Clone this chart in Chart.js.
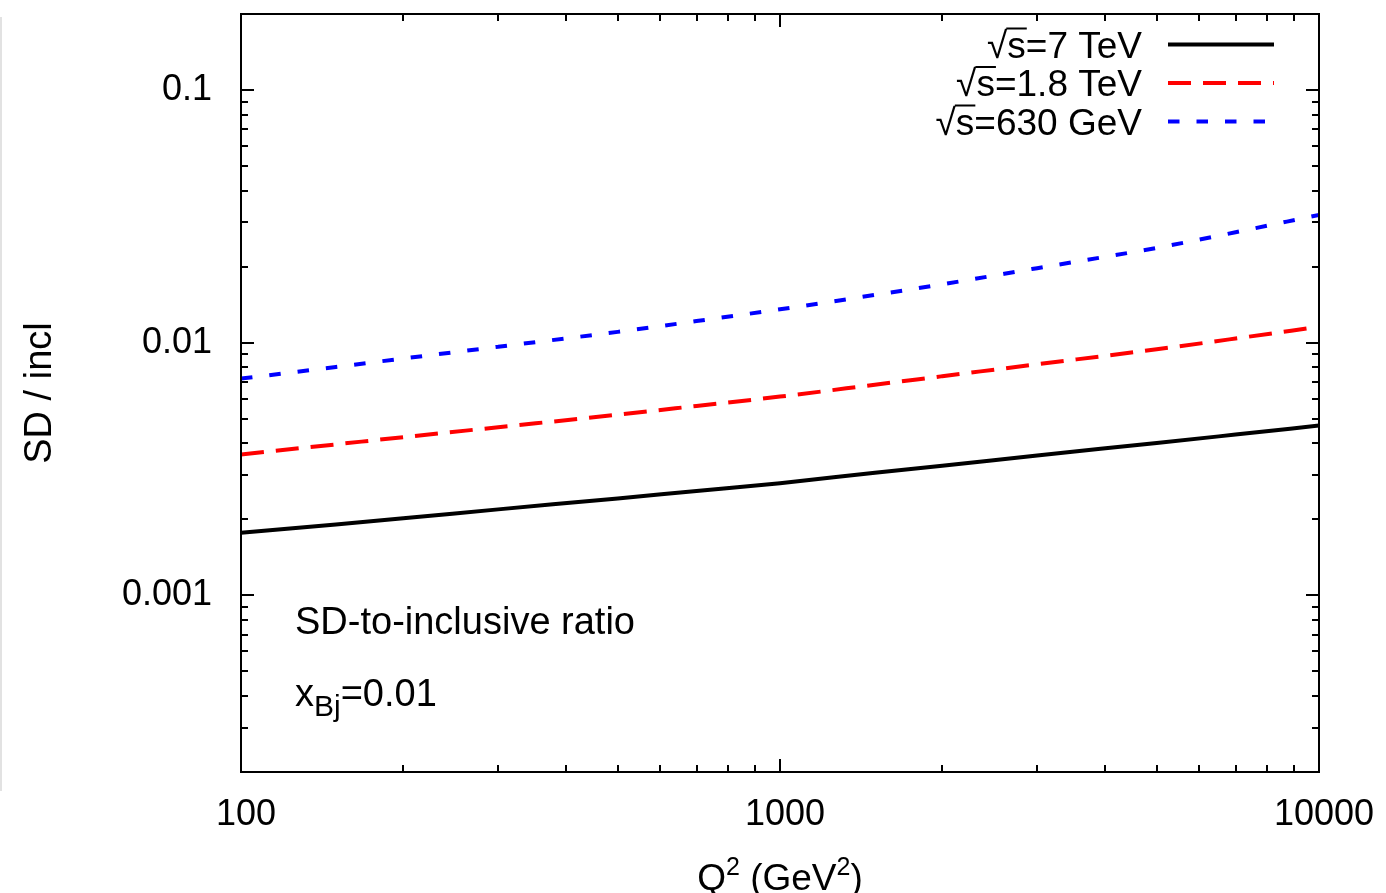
<!DOCTYPE html>
<html>
<head>
<meta charset="utf-8">
<script src="https://cdn.jsdelivr.net/npm/chart.js@4.4.0/dist/chart.umd.min.js"></script>
<style>
  html, body { margin: 0; padding: 0; background: #fff; }
  #wrap { position: relative; width: 1386px; height: 893px; }
</style>
</head>
<body>
<div id="wrap"><canvas id="ratio" width="1386" height="893"></canvas></div>
<script>
// Q^2 values (GeV^2)
let q2 = [100, 150, 200, 300, 500, 700, 1000, 1500, 2000, 3000, 5000, 7000, 10000];
// SD / inclusive ratio, x_Bj = 0.01
let ratio7TeV   = [0.00177, 0.00191, 0.00202, 0.00219, 0.00242, 0.00259, 0.00278, 0.00306, 0.00326, 0.00358, 0.00401, 0.00433, 0.00470];
let ratio18TeV  = [0.00361, 0.00396, 0.00423, 0.00463, 0.00519, 0.00562, 0.00612, 0.00682, 0.00737, 0.00822, 0.00942, 0.01039, 0.01157];
let ratio630GeV = [0.00721, 0.00802, 0.00866, 0.00964, 0.01104, 0.01218, 0.01356, 0.01546, 0.01703, 0.01973, 0.02374, 0.02736, 0.03206];
let energies = ['7 TeV', '1.8 TeV', '630 GeV'];
let xTickLabels = ['100', '1000', '10000'];
let yTickLabels = ['0.001', '0.01', '0.1'];

const FONT = '"Liberation Sans", Arial, Helvetica, sans-serif';

function pts(ys) {
  return q2.map((q, i) => ({ x: q, y: ys[i] }));
}

// 1..9 x 10^n between min and max
function logTicks(min, max) {
  let out = [];
  for (let n = Math.floor(Math.log10(min)); n <= Math.ceil(Math.log10(max)); n++) {
    for (let k = 1; k <= 9; k++) {
      let v = k * Math.pow(10, n);
      if (v >= min * (1 - 1e-9) && v <= max * (1 + 1e-9)) out.push({ value: v });
    }
  }
  return out;
}

function labelFor(list, value) {
  let hit = list.find(l => Math.abs(Number(l) - value) < value * 1e-9);
  return hit === undefined ? '' : hit;
}

function noOverhang(scale) {
  scale.paddingTop = 0;
  scale.paddingBottom = 0;
  scale.paddingLeft = 0;
  scale.paddingRight = 0;
}

// frame with inward ticks on all four sides, legend and text labels
const decor = {
  id: 'decor',
  afterDatasetsDraw(chart) {
    const { ctx, chartArea: a, scales } = chart;
    ctx.save();

    // faint edge line on the far left
    ctx.strokeStyle = '#e2e2e2';
    ctx.lineWidth = 2;
    ctx.beginPath();
    ctx.moveTo(1, 17); ctx.lineTo(1, 791);
    ctx.stroke();

    // legend
    ctx.font = '37px ' + FONT;
    ctx.fillStyle = '#000';
    ctx.textBaseline = 'alphabetic';
    ctx.textAlign = 'left';
    chart.data.datasets.forEach((ds, i) => {
      let rowY = 44.5 + 38.5 * i;
      let base = rowY + 13;
      let right = 1142;
      let rest = '=' + ds.label;
      let wRest = ctx.measureText(rest).width;
      let wS = ctx.measureText('s').width;
      let mR = ctx.measureText('\u221A');
      let xRest = right - wRest, xS = xRest - wS, xR = xS - mR.width;
      ctx.fillText('\u221A', xR, base);
      ctx.fillText('s', xS, base);
      ctx.fillText(rest, xRest, base);
      ctx.strokeStyle = '#000';
      ctx.lineWidth = 2;
      ctx.setLineDash([]);
      let top = base - mR.actualBoundingBoxAscent + 1;
      ctx.beginPath();
      ctx.moveTo(xS - 1, top); ctx.lineTo(xS + wS + 1, top);
      ctx.stroke();

      ctx.strokeStyle = ds.borderColor;
      ctx.lineWidth = ds.borderWidth;
      ctx.setLineDash(ds.borderDash || []);
      ctx.beginPath();
      ctx.moveTo(1168, rowY); ctx.lineTo(1274, rowY);
      ctx.stroke();
    });
    ctx.setLineDash([]);

    // frame and ticks
    ctx.strokeStyle = '#000';
    ctx.lineWidth = 2;
    ctx.strokeRect(a.left, a.top, a.right - a.left, a.bottom - a.top);
    ctx.beginPath();
    scales.x.ticks.forEach(t => {
      let px = Math.round(scales.x.getPixelForValue(t.value));
      let len = t.label ? 13 : 7;
      ctx.moveTo(px, a.bottom); ctx.lineTo(px, a.bottom - len);
      ctx.moveTo(px, a.top); ctx.lineTo(px, a.top + len);
    });
    scales.y.ticks.forEach(t => {
      let py = Math.round(scales.y.getPixelForValue(t.value));
      let len = t.label ? 13 : 7;
      ctx.moveTo(a.left, py); ctx.lineTo(a.left + len, py);
      ctx.moveTo(a.right, py); ctx.lineTo(a.right - len, py);
    });
    ctx.stroke();

    // text inside the plot
    ctx.fillStyle = '#000';
    ctx.font = '38px ' + FONT;
    ctx.fillText('SD-to-inclusive ratio', 295, 634);
    let x = 295;
    ctx.fillText('x', x, 706);
    x += ctx.measureText('x').width;
    ctx.font = '30px ' + FONT;
    ctx.fillText('Bj', x, 716);
    x += ctx.measureText('Bj').width;
    ctx.font = '38px ' + FONT;
    ctx.fillText('=0.01', x, 706);

    // axis titles
    let parts = [['Q', 37, 0], ['2', 25, -15], [' (GeV', 37, 0], ['2', 25, -15], [')', 37, 0]];
    let total = 0;
    parts.forEach(p => { ctx.font = p[1] + 'px ' + FONT; total += ctx.measureText(p[0]).width; });
    x = (a.left + a.right) / 2 - total / 2;
    parts.forEach(p => {
      ctx.font = p[1] + 'px ' + FONT;
      ctx.fillText(p[0], x, 890 + p[2]);
      x += ctx.measureText(p[0]).width;
    });

    ctx.translate(51, (a.top + a.bottom) / 2);
    ctx.rotate(-Math.PI / 2);
    ctx.font = '38px ' + FONT;
    ctx.textAlign = 'center';
    ctx.fillText('SD / incl', 0, 0);
    ctx.restore();
  }
};

const tickFont = { family: FONT, size: 36 };

new Chart(document.getElementById('ratio'), {
  type: 'line',
  data: {
    datasets: [
      { label: energies[0], data: pts(ratio7TeV),   borderColor: '#000000', borderWidth: 4, borderDash: [] },
      { label: energies[1], data: pts(ratio18TeV),  borderColor: '#ff0000', borderWidth: 4, borderDash: [23, 12] },
      { label: energies[2], data: pts(ratio630GeV), borderColor: '#0000ff', borderWidth: 4, borderDash: [11.5, 17] }
    ]
  },
  options: {
    responsive: false,
    devicePixelRatio: 1,
    animation: false,
    layout: { padding: { top: 14, right: 67, left: 0, bottom: 0 } },
    elements: {
      point: { radius: 0 },
      line: { cubicInterpolationMode: 'monotone', fill: false }
    },
    plugins: { legend: { display: false }, tooltip: { enabled: false } },
    scales: {
      x: {
        type: 'logarithmic',
        min: 100,
        max: 10000,
        grid: { display: false, drawTicks: false },
        border: { display: false },
        afterBuildTicks(scale) { scale.ticks = logTicks(100, 10000); },
        afterFit(scale) { scale.height = 121; noOverhang(scale); },
        ticks: {
          autoSkip: false, maxRotation: 0, padding: 21, labelOffset: 5, color: '#000', font: tickFont,
          callback: (v) => labelFor(xTickLabels, v)
        }
      },
      y: {
        type: 'logarithmic',
        min: 0.0002,
        max: 0.2,
        grid: { display: false, drawTicks: false },
        border: { display: false },
        afterBuildTicks(scale) { scale.ticks = logTicks(0.0002, 0.2); },
        afterFit(scale) { scale.width = 241; noOverhang(scale); },
        ticks: {
          autoSkip: false, padding: 29, color: '#000', font: tickFont,
          callback: (v) => labelFor(yTickLabels, v)
        }
      }
    }
  },
  plugins: [decor]
});
</script>
</body>
</html>
